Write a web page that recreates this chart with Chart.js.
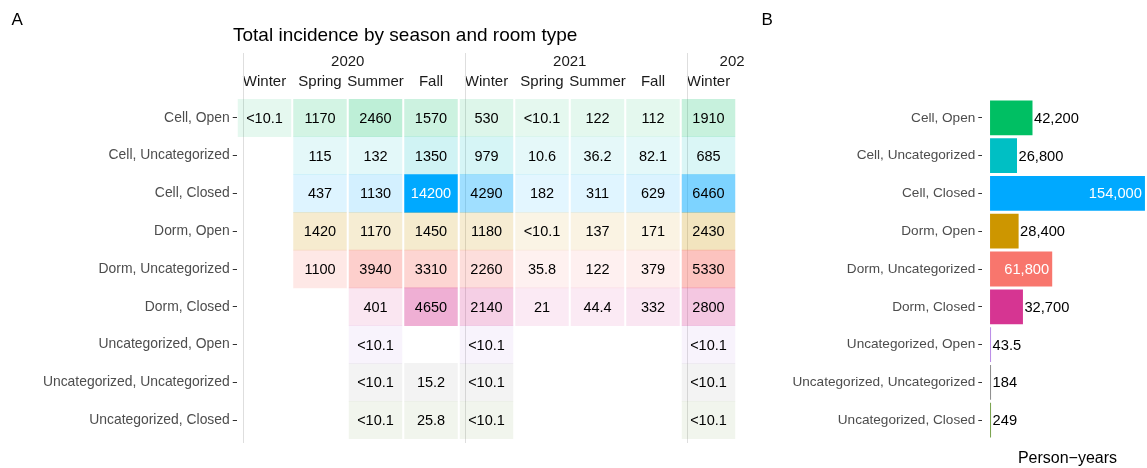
<!DOCTYPE html>
<html><head><meta charset="utf-8">
<script src="https://cdn.jsdelivr.net/npm/chart.js@4.4.1/dist/chart.umd.min.js"></script>
<style>
html,body{margin:0;padding:0;width:1147px;height:468px;overflow:hidden;background:#fff;font-family:"Liberation Sans",Arial,sans-serif;}
#wrapA{position:absolute;left:0;top:0;width:744px;height:468px;overflow:hidden;}
#chartA{position:absolute;left:0;top:0;width:840px;height:468px;}
#chartB{position:absolute;left:748px;top:0;width:406px;height:468px;}
.lbl{position:absolute;line-height:1;color:#000;white-space:nowrap;}
</style></head><body>
<div id="wrapA"><canvas id="chartA" width="840" height="468"></canvas></div>
<canvas id="chartB" width="406" height="468"></canvas>
<div class="lbl" style="left:11.5px;top:10.6px;font-size:17px">A</div>
<div class="lbl" style="left:761.5px;top:10.6px;font-size:17px">B</div>
<div class="lbl" style="left:233px;top:25px;font-size:19px">Total incidence by season and room type</div>
<script>
const FONT = '"Liberation Sans", Arial, sans-serif';
const roomTypes = ["Cell, Open","Cell, Uncategorized","Cell, Closed","Dorm, Open","Dorm, Uncategorized","Dorm, Closed","Uncategorized, Open","Uncategorized, Uncategorized","Uncategorized, Closed"];
const seasons = ["Winter","Spring","Summer","Fall","Winter","Spring","Summer","Fall","Winter","Spring"];
const seasonYears = ["2020","2020","2020","2020","2021","2021","2021","2021","2022","2022"];
const years = ["2020","2021","2022"];

// incidence per room type, one entry per season column (null = no data)
const cellOpen          = ["<10.1","1170","2460","1570","530","<10.1","122","112","1910",null];
const cellUncategorized = [null,"115","132","1350","979","10.6","36.2","82.1","685",null];
const cellClosed        = [null,"437","1130","14200","4290","182","311","629","6460",null];
const dormOpen          = [null,"1420","1170","1450","1180","<10.1","137","171","2430",null];
const dormUncategorized = [null,"1100","3940","3310","2260","35.8","122","379","5330",null];
const dormClosed        = [null,null,"401","4650","2140","21","44.4","332","2800",null];
const uncatOpen         = [null,null,"<10.1",null,"<10.1",null,null,null,"<10.1",null];
const uncatUncategorized= [null,null,"<10.1","15.2","<10.1",null,null,null,"<10.1",null];
const uncatClosed       = [null,null,"<10.1","25.8","<10.1",null,null,null,"<10.1",null];

const personYears = [42200, 26800, 154000, 28400, 61800, 32700, 43.5, 184, 249];
const roomColors = ["#00BF63","#00BFC4","#00A9FF","#CD9600","#F8766D","#D63592","#B98AE6","#8C8C8C","#77A04A"];

const incidenceRows = [cellOpen, cellUncategorized, cellClosed, dormOpen, dormUncategorized, dormClosed, uncatOpen, uncatUncategorized, uncatClosed];
const toNum = s => s == null ? null : parseFloat(String(s).replace('<',''));
const maxInc = Math.max(...incidenceRows.flat().filter(s => s != null).map(toNum));
const alphaOf = v => 0.1 + 0.9 * v / maxInc;
function rgba(hex, a) {
  const n = parseInt(hex.slice(1), 16);
  return `rgba(${(n>>16)&255},${(n>>8)&255},${n&255},${a})`;
}
const HALF = 0.476;
const colHasData = seasons.map((_, c) => incidenceRows.some(row => row[c] != null));

const datasetsA = seasons.map((s, c) => ({
  label: s + ' ' + seasonYears[c],
  data: incidenceRows.map(row => row[c] == null ? null : [c - HALF, c + HALF]),
  texts: incidenceRows.map(row => row[c]),
  backgroundColor: incidenceRows.map((row, r) => row[c] == null ? 'rgba(0,0,0,0)' : rgba(roomColors[r], alphaOf(toNum(row[c])))),
  grouped: false, barPercentage: 1, categoryPercentage: 1, borderWidth: 0
}));
const yearCenters = years.map(y => {
  const idx = seasonYears.map((sy, i) => sy === y ? i : -1).filter(i => i >= 0);
  return idx.reduce((a, b) => a + b, 0) / idx.length;
});
const yearStarts = years.map(y => seasonYears.indexOf(y));

const yearLines = {
  id: 'yearLines',
  beforeDatasetsDraw(chart) {
    const ctx = chart.ctx, xs = chart.scales.x;
    ctx.save();
    ctx.strokeStyle = '#DEDEDE';
    ctx.lineWidth = 1;
    yearStarts.forEach(c => {
      const x = Math.round(xs.getPixelForValue(c - 0.5) + 6) + 0.5;
      ctx.beginPath();
      ctx.moveTo(x, 53);
      ctx.lineTo(x, chart.chartArea.bottom + 4);
      ctx.stroke();
    });
    ctx.restore();
  }
};
const cellText = {
  id: 'cellText',
  afterDatasetsDraw(chart) {
    const ctx = chart.ctx;
    ctx.save();
    ctx.font = `14.5px ${FONT}`;
    ctx.textAlign = 'center';
    ctx.textBaseline = 'middle';
    chart.data.datasets.forEach((ds, i) => {
      chart.getDatasetMeta(i).data.forEach((el, r) => {
        const t = ds.texts[r];
        if (t == null) return;
        ctx.fillStyle = alphaOf(toNum(t)) > 0.8 ? '#FFFFFF' : '#000000';
        ctx.fillText(t, (el.x + el.base) / 2, el.y + 1);
      });
    });
    ctx.restore();
  }
};

const yAxisCommon = (w, size) => ({
  type: 'category', offset: true,
  grid: { display: true, offset: false, drawOnChartArea: false, drawTicks: true, tickLength: 4, tickColor: '#333333', tickWidth: 1 },
  border: { display: false },
  ticks: { color: '#4D4D4D', font: { family: FONT, size: size }, padding: 3, autoSkip: false },
  afterFit: s => { s.width = w; }
});

new Chart(document.getElementById('chartA'), {
  type: 'bar',
  data: { labels: roomTypes, datasets: datasetsA },
  options: {
    indexAxis: 'y', responsive: false, animation: false, devicePixelRatio: 1,
    layout: { padding: { left: 0, right: 48.25, top: 51, bottom: 29 } },
    plugins: { legend: { display: false }, tooltip: { enabled: false } },
    scales: {
      y: yAxisCommon(236.75, 13.9),
      x: {
        type: 'linear', position: 'top', weight: 0, min: -0.5, max: seasons.length - 0.5,
        grid: { display: false, drawTicks: false }, border: { display: false },
        afterBuildTicks: s => { s.ticks = seasons.map((_, i) => ({ value: i })); },
        ticks: { autoSkip: false, maxRotation: 0, minRotation: 0, padding: 8, color: '#1A1A1A',
          font: { family: FONT, size: 15 }, callback: v => colHasData[Math.round(v)] ? seasons[Math.round(v)] : '' },
        afterFit: s => { s.height = 28; }
      },
      x2: {
        type: 'linear', position: 'top', weight: 1, min: -0.5, max: seasons.length - 0.5,
        grid: { display: false, drawTicks: false }, border: { display: false },
        afterBuildTicks: s => { s.ticks = yearCenters.map(v => ({ value: v })); },
        ticks: { autoSkip: false, maxRotation: 0, minRotation: 0, padding: 0, color: '#1A1A1A',
          font: { family: FONT, size: 15 }, callback: (v, i) => years[i] },
        afterFit: s => { s.height = 20; }
      }
    }
  },
  plugins: [yearLines, cellText]
});

const barText = {
  id: 'barText',
  afterDatasetsDraw(chart) {
    const ctx = chart.ctx;
    const ds = chart.data.datasets[0];
    ctx.save();
    ctx.font = `14.7px ${FONT}`;
    ctx.textBaseline = 'middle';
    chart.getDatasetMeta(0).data.forEach((el, i) => {
      const t = ds.data[i].toLocaleString('en-US');
      const tw = ctx.measureText(t).width;
      const bw = el.x - el.base;
      if (bw > tw + 8) {
        ctx.fillStyle = '#FFFFFF'; ctx.textAlign = 'right';
        ctx.fillText(t, el.x - 3, el.y + 1);
      } else {
        ctx.fillStyle = '#000000'; ctx.textAlign = 'left';
        ctx.fillText(t, el.x + 1.5, el.y + 1);
      }
    });
    ctx.restore();
  }
};
const maxPY = Math.max(...personYears);
new Chart(document.getElementById('chartB'), {
  type: 'bar',
  data: { labels: roomTypes, datasets: [{ data: personYears, backgroundColor: roomColors, barPercentage: 0.92, categoryPercentage: 1, borderWidth: 0, minBarLength: 1 }] },
  options: {
    indexAxis: 'y', responsive: false, animation: false, devicePixelRatio: 1,
    layout: { padding: { left: 0, right: 1.3, top: 99, bottom: 0 } },
    plugins: { legend: { display: false }, tooltip: { enabled: false } },
    scales: {
      y: yAxisCommon(234.3, 13.6),
      x: {
        type: 'linear', min: -0.05 * maxPY, max: 1.05 * maxPY,
        grid: { display: false, drawTicks: false }, border: { display: false },
        ticks: { display: false },
        title: { display: true, text: 'Person\u2212years', color: '#000000', font: { family: FONT, size: 16 }, padding: { top: 0, bottom: 0 } },
        afterFit: s => { s.height = 29; }
      }
    }
  },
  plugins: [barText]
});
</script>
</body></html>
